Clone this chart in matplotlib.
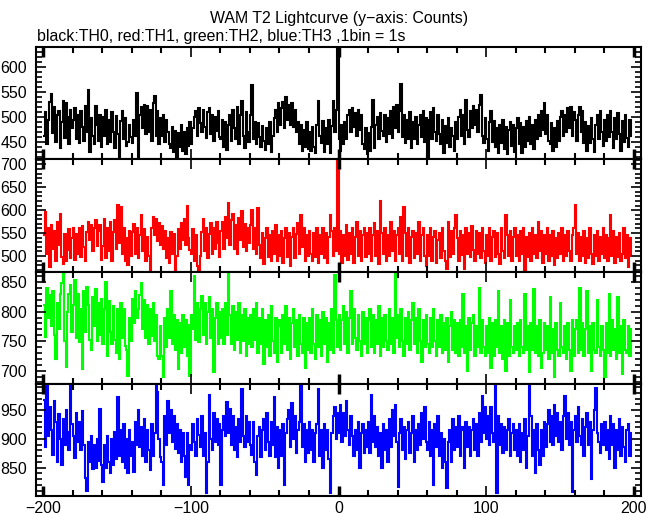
import numpy as np
import matplotlib
matplotlib.use("Agg")
import matplotlib.pyplot as plt
from matplotlib.ticker import MultipleLocator

plt.rcParams['font.family'] = ['Liberation Sans', 'DejaVu Sans']

title = "WAM T2 Lightcurve (y\u2212axis: Counts)"
subtitle = "black:TH0, red:TH1, green:TH2, blue:TH3 ,1bin = 1s"

t_start = -200   # first bin start (s)
bin_width = 1    # 1 bin = 1 s

th0 = [
    462, 510, 445, 495, 530, 547, 468, 520, 450, 505, 512, 437, 490, 532, 458, 528, 500, 445, 515, 478,
    495, 518, 455, 505, 448, 512, 480, 452, 522, 470, 555, 430, 498, 462, 445, 523, 485, 452, 505, 440,
    500, 462, 515, 445, 495, 450, 510, 470, 438, 502, 465, 419, 492, 512, 455, 498, 442, 450, 485, 460,
    448, 495, 462, 548, 417, 505, 520, 478, 525, 465, 523, 470, 515, 452, 528, 542, 462, 512, 445, 498,
    462, 505, 450, 495, 470, 445, 437, 480, 430, 472, 417, 468, 440, 485, 432, 470, 425, 478, 442, 490,
    445, 478, 500, 512, 462, 518, 488, 470, 515, 480, 458, 510, 518, 465, 505, 452, 500, 472, 512, 460,
    455, 495, 440, 490, 433, 485, 505, 452, 515, 478, 455, 520, 445, 505, 532, 462, 438, 510, 470, 450,
    505, 564, 455, 490, 445, 488, 460, 440, 482, 452, 433, 478, 445, 490, 430, 462, 498, 515, 470, 528,
    485, 518, 530, 478, 541, 495, 525, 485, 528, 480, 515, 470, 490, 445, 485, 432, 475, 440, 490, 435,
    470, 432, 480, 440, 428, 485, 532, 462, 448, 492, 430, 478, 445, 495, 428, 482, 532, 470, 515, 660,
    455, 432, 485, 445, 490, 455, 505, 515, 470, 518, 480, 508, 462, 515, 475, 505, 445, 435, 478, 425,
    468, 432, 480, 535, 438, 485, 500, 455, 508, 472, 462, 505, 450, 498, 465, 512, 458, 520, 478, 525,
    470, 512, 566, 460, 505, 448, 495, 455, 510, 438, 490, 455, 500, 445, 485, 505, 460, 512, 450, 498,
    417, 495, 510, 455, 518, 470, 452, 505, 465, 445, 495, 428, 482, 448, 498, 440, 478, 462, 432, 490,
    455, 500, 515, 462, 505, 445, 534, 475, 460, 512, 478, 522, 485, 515, 470, 525, 544, 462, 448, 498,
    455, 432, 490, 513, 450, 492, 440, 478, 428, 485, 448, 495, 435, 480, 425, 475, 490, 442, 485, 430,
    478, 498, 445, 488, 428, 480, 440, 492, 452, 500, 445, 485, 435, 495, 455, 505, 462, 512, 475, 528,
    465, 505, 452, 445, 488, 432, 478, 440, 492, 452, 500, 512, 462, 505, 470, 518, 478, 520, 462, 510,
    495, 452, 505, 520, 470, 512, 448, 490, 432, 482, 448, 498, 455, 430, 485, 505, 455, 512, 470, 442,
    495, 452, 505, 460, 512, 470, 438, 498, 455, 508, 465, 432, 492, 450, 505, 458, 440, 495, 462,
]

th1 = [
    545, 595, 505, 560, 476, 568, 515, 555, 490, 575, 525, 592, 498, 482, 548, 490, 512, 558, 495, 540,
    560, 492, 548, 505, 562, 498, 566, 520, 488, 552, 575, 535, 568, 510, 562, 578, 522, 555, 568, 491,
    522, 580, 495, 560, 510, 575, 490, 552, 578, 515, 612, 528, 607, 505, 560, 490, 540, 480, 555, 500,
    552, 570, 505, 560, 495, 545, 590, 510, 558, 490, 542, 500, 469, 562, 585, 545, 580, 532, 572, 525,
    565, 515, 555, 495, 540, 485, 552, 505, 548, 468, 500, 558, 515, 572, 535, 580, 525, 610, 540, 512,
    505, 558, 490, 545, 478, 468, 500, 552, 580, 510, 562, 495, 548, 572, 505, 560, 515, 575, 528, 498,
    555, 575, 515, 585, 540, 615, 525, 578, 592, 515, 568, 505, 582, 535, 598, 520, 570, 510, 560, 528,
    568, 600, 515, 560, 505, 605, 525, 495, 550, 482, 540, 562, 498, 545, 490, 555, 505, 568, 488, 545,
    500, 555, 485, 540, 562, 498, 550, 478, 542, 560, 495, 548, 572, 505, 590, 520, 562, 490, 545, 500,
    555, 505, 490, 550, 498, 562, 485, 545, 505, 560, 495, 550, 485, 542, 590, 555, 500, 560, 510, 715,
    505, 555, 485, 545, 500, 568, 492, 550, 505, 560, 485, 542, 575, 500, 555, 490, 545, 562, 498, 550,
    505, 560, 490, 545, 572, 500, 555, 482, 620, 550, 505, 562, 490, 545, 500, 575, 510, 555, 490, 545,
    562, 505, 585, 490, 606, 550, 500, 560, 485, 542, 555, 495, 550, 505, 575, 490, 545, 560, 500, 478,
    545, 500, 560, 490, 542, 555, 485, 535, 550, 495, 562, 510, 490, 472, 575, 498, 555, 505, 560, 590,
    540, 490, 555, 502, 545, 472, 560, 505, 550, 498, 565, 512, 490, 555, 505, 550, 495, 560, 510, 485,
    545, 500, 562, 490, 542, 555, 498, 550, 505, 482, 560, 510, 495, 590, 545, 500, 555, 490, 542, 560,
    500, 545, 490, 555, 505, 562, 470, 542, 498, 550, 490, 560, 505, 545, 495, 575, 510, 555, 485, 545,
    505, 560, 490, 545, 500, 555, 480, 540, 495, 550, 505, 562, 490, 545, 500, 555, 510, 490, 545, 560,
    612, 505, 550, 490, 542, 500, 555, 485, 540, 495, 560, 505, 482, 545, 500, 555, 490, 542, 505, 560,
    495, 545, 490, 540, 590, 500, 555, 485, 542, 498, 550, 490, 505, 560, 495, 545, 475, 540, 500,
]

th2 = [
    812, 757, 840, 790, 828, 775, 835, 760, 720, 815, 770, 830, 849, 868, 750, 706, 800, 830, 845, 765,
    812, 854, 755, 830, 748, 805, 703, 835, 765, 841, 812, 752, 735, 825, 775, 838, 750, 815, 760, 822,
    745, 805, 851, 725, 818, 765, 745, 810, 752, 730, 805, 720, 815, 755, 805, 742, 735, 691, 790, 750,
    822, 780, 835, 790, 805, 828, 849, 770, 820, 755, 812, 745, 805, 758, 815, 750, 795, 725, 720, 775,
    725, 690, 790, 740, 805, 755, 835, 745, 795, 735, 785, 703, 780, 730, 795, 740, 785, 725, 778, 691,
    795, 770, 861, 752, 815, 748, 805, 826, 760, 815, 745, 800, 825, 755, 805, 698, 790, 815, 745, 800,
    755, 805, 745, 815, 760, 866, 795, 745, 810, 735, 800, 752, 815, 730, 795, 750, 805, 725, 790, 745,
    795, 740, 805, 752, 815, 730, 790, 745, 805, 712, 785, 740, 795, 725, 810, 750, 730, 790, 715, 775,
    785, 730, 795, 745, 810, 735, 790, 720, 780, 805, 740, 785, 725, 795, 745, 730, 790, 705, 780, 735,
    790, 730, 805, 745, 720, 795, 740, 785, 725, 800, 745, 790, 715, 780, 735, 805, 730, 862, 785, 740,
    795, 735, 785, 810, 745, 800, 730, 790, 835, 745, 805, 755, 735, 795, 750, 725, 800, 745, 790, 730,
    785, 805, 740, 795, 730, 785, 745, 810, 725, 790, 740, 795, 750, 735, 805, 745, 790, 730, 866, 755,
    795, 740, 805, 750, 725, 790, 745, 800, 735, 785, 815, 745, 790, 730, 805, 750, 715, 785, 740, 795,
    745, 730, 790, 740, 805, 750, 725, 785, 740, 795, 730, 780, 735, 790, 715, 775, 800, 735, 785, 730,
    780, 725, 785, 740, 830, 730, 775, 700, 790, 735, 780, 795, 725, 775, 740, 840, 730, 785, 740, 725,
    775, 730, 790, 705, 780, 725, 785, 740, 835, 730, 775, 720, 785, 700, 780, 725, 820, 740, 730, 775,
    735, 780, 725, 785, 740, 730, 830, 735, 775, 698, 780, 735, 838, 730, 775, 725, 785, 705, 730, 780,
    735, 775, 720, 825, 730, 770, 690, 780, 735, 725, 815, 740, 730, 775, 720, 780, 735, 700, 785, 725,
    770, 785, 730, 840, 735, 780, 725, 770, 835, 730, 775, 700, 780, 735, 730, 820, 740, 725, 775, 735,
    690, 780, 730, 830, 725, 785, 735, 770, 720, 825, 730, 775, 695, 785, 735, 730, 775, 725, 770,
]

th3 = [
    968, 885, 995, 905, 955, 915, 872, 965, 930, 860, 943, 900, 854, 935, 890, 950, 912, 880, 996, 925,
    905, 867, 945, 895, 930, 880, 948, 890, 832, 810, 895, 860, 905, 847, 890, 850, 900, 862, 951, 855,
    825, 890, 850, 905, 860, 840, 900, 855, 912, 865, 972, 870, 915, 860, 925, 850, 900, 840, 915, 870,
    895, 842, 930, 890, 950, 885, 920, 870, 935, 860, 915, 880, 845, 925, 870, 910, 995, 982, 900, 868,
    860, 819, 940, 890, 965, 910, 950, 895, 940, 882, 925, 875, 915, 860, 910, 870, 834, 910, 820, 890,
    880, 925, 895, 870, 935, 907, 885, 940, 870, 910, 805, 860, 977, 900, 880, 945, 895, 935, 890, 925,
    819, 915, 940, 905, 964, 910, 952, 890, 940, 880, 920, 868, 935, 895, 986, 905, 885, 940, 895, 930,
    890, 872, 930, 860, 837, 905, 920, 868, 915, 935, 880, 945, 895, 870, 930, 890, 972, 868, 920, 850,
    915, 870, 925, 819, 910, 935, 950, 885, 962, 900, 940, 875, 915, 930, 995, 885, 925, 860, 915, 875,
    930, 880, 915, 860, 910, 925, 986, 870, 915, 850, 925, 880, 915, 865, 805, 910, 940, 955, 900, 945,
    910, 958, 895, 945, 905, 965, 915, 890, 940, 905, 870, 915, 880, 930, 850, 910, 925, 875, 915, 885,
    930, 875, 977, 895, 940, 885, 920, 870, 910, 850, 925, 880, 915, 860, 935, 885, 950, 905, 958, 895,
    816, 910, 935, 880, 920, 865, 915, 930, 875, 910, 940, 860, 915, 880, 925, 890, 945, 900, 955, 895,
    880, 930, 870, 915, 819, 925, 885, 940, 870, 910, 850, 900, 860, 814, 895, 915, 860, 935, 880, 920,
    885, 940, 870, 915, 920, 850, 930, 885, 920, 870, 915, 935, 880, 925, 870, 945, 895, 975, 910, 955,
    900, 940, 890, 955, 910, 895, 995, 805, 940, 890, 925, 875, 920, 880, 915, 935, 870, 910, 925, 880,
    915, 870, 925, 860, 910, 880, 935, 850, 905, 995, 940, 870, 915, 840, 925, 880, 855, 915, 870, 930,
    885, 925, 950, 895, 940, 890, 958, 905, 945, 895, 930, 880, 940, 975, 900, 945, 890, 930, 807, 915,
    940, 895, 955, 905, 890, 935, 870, 920, 945, 890, 930, 830, 915, 950, 989, 910, 895, 875, 925, 890,
    930, 880, 915, 865, 940, 890, 925, 850, 915, 880, 935, 870, 920, 885, 860, 915, 925, 870, 910,
]

series = [th0, th1, th2, th3]
colors = ["#000000", "#ff0000", "#00ff00", "#0000ff"]
ylims = [(415, 640), (466, 711), (678, 868), (801, 996)]
ymajor = [50, 50, 50, 50]
yminor = [10, 10, 10, 10]
xlim = (-205, 205)
xticks_major = [-200, -100, 0, 100, 200]

fig = plt.figure(figsize=(6.6, 5.15), dpi=100)
left, right = 36 / 660, 641 / 660
top_px, h_px = 47.3, 112.1

axes = []
for i, (vals, col, yl) in enumerate(zip(series, colors, ylims)):
    y0 = 1 - (top_px + (i + 1) * h_px) / 515
    ax = fig.add_axes([left, y0, right - left, h_px / 515])
    edges = t_start + bin_width * np.arange(len(vals) + 1)
    ax.stairs(vals, edges, color=col, linewidth=1.5, baseline=None)
    ax.set_xlim(*xlim)
    ax.set_ylim(*yl)
    ax.xaxis.set_major_locator(plt.FixedLocator(xticks_major))
    ax.xaxis.set_minor_locator(MultipleLocator(20))
    ax.yaxis.set_major_locator(MultipleLocator(ymajor[i]))
    ax.yaxis.set_minor_locator(MultipleLocator(yminor[i]))
    ax.tick_params(axis='both', which='both', direction='in', top=True, right=True,
                   colors='black', labelsize=11.5)
    ax.tick_params(axis='x', which='major', length=7, width=1.2)
    ax.tick_params(axis='x', which='minor', length=4, width=1.5)
    ax.tick_params(axis='y', which='major', length=7, width=1.2)
    ax.tick_params(axis='y', which='minor', length=4, width=1.2)
    ax.tick_params(axis='y', pad=6.5)
    for sp in ax.spines.values():
        sp.set_linewidth(1.5)
    if i < 3:
        ax.tick_params(axis='x', labelbottom=False)
    else:
        ax.tick_params(axis='x', pad=4)
    for tk, loc in zip(ax.xaxis.get_major_ticks(), xticks_major):
        if loc in (-200, 0, 200):
            tk.tick1line.set_markeredgewidth(2.5)
            tk.tick2line.set_markeredgewidth(2.5)
    axes.append(ax)

fig.text(339 / 660, 1 - 18 / 515, title, ha='center', va='center', fontsize=11.4)
fig.text(37 / 660, 1 - 37 / 515, subtitle, ha='left', va='center', fontsize=11.4)

fig.savefig("out.png", dpi=100, facecolor='white')
